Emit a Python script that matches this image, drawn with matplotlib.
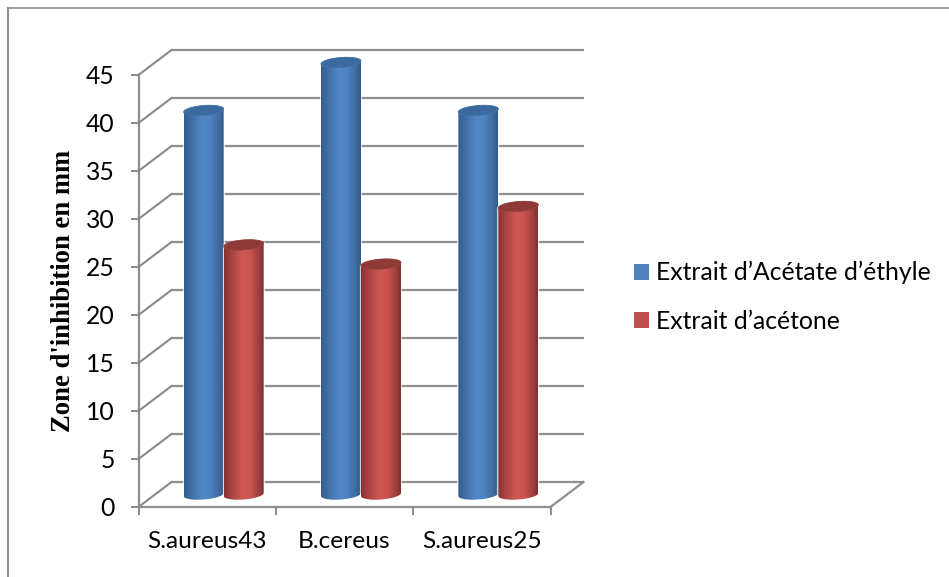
import matplotlib
matplotlib.use("Agg")
import matplotlib.pyplot as plt
import numpy as np
from matplotlib.colors import LinearSegmentedColormap
from matplotlib.lines import Line2D
from matplotlib.patches import Patch, PathPatch
from matplotlib.path import Path

categories = ["S.aureus43", "B.cereus", "S.aureus25"]
acetate = [40, 45, 40]
acetone = [26, 24, 30]
series_names = ["Extrait d\u2019Acétate d\u2019éthyle", "Extrait d\u2019acétone"]
y_ticks = list(range(0, 50, 5))

GRID = "#8e8e8e"
BLUE = "#4f81bd"
RED = "#c0504d"
blue_map = LinearSegmentedColormap.from_list(
    "blue_cyl", [(0, "#365f8f"), (0.2, "#4170a8"), (0.45, "#5187c9"), (0.65, "#4f83c2"), (0.88, "#3f6b9f"), (1, "#335a88")])
red_map = LinearSegmentedColormap.from_list(
    "red_cyl", [(0, "#853331"), (0.2, "#ab4542"), (0.45, "#cf5754"), (0.65, "#cb5451"), (0.88, "#9e3f3d"), (1, "#7d302e")])

W, H = 949, 577
fig = plt.figure(figsize=(W / 100, H / 100), dpi=100, facecolor="white")
ax = fig.add_axes([138.5 / W, (H - 507) / H, 412 / W, 432 / H])
ax.set_xlim(0, 3)
ax.set_ylim(0, 45)
ax.autoscale(False)
ax.patch.set_visible(False)

# pixels per data unit, used to keep the fake depth and ellipses in data coordinates
PX_X = 412 / 3
PX_Y = 432 / 45
DEPTH_X = 33 / PX_X
DEPTH_Y = 25 / PX_Y

# walls and floor
for v in y_ticks:
    ax.plot([DEPTH_X, 3 + DEPTH_X], [v + DEPTH_Y] * 2, color=GRID, lw=1.6, clip_on=False, zorder=1, solid_capstyle="butt")
    ax.plot([0, DEPTH_X], [v, v + DEPTH_Y], color=GRID, lw=1.6, clip_on=False, zorder=1)
ax.plot([3, 3 + DEPTH_X], [0, DEPTH_Y], color=GRID, lw=1.6, clip_on=False, zorder=1)


def ellipse_xy(cx, v, t):
    # ellipse seen from above, slightly tilted up to the right
    x = cx + (20 * np.cos(t)) / PX_X
    y = v + (5 * np.sin(t) + 1.5 * np.cos(t)) / PX_Y
    return x, y


def cylinder(cx, value, cmap, top_color, z):
    # cylinder stands mid-way in the depth of the chart
    cx = cx + DEPTH_X / 2
    base = DEPTH_Y / 2
    top = base + value
    t1 = np.linspace(np.pi, 2 * np.pi, 40)
    t2 = np.linspace(2 * np.pi, np.pi, 40)
    bx, by = ellipse_xy(cx, base, t1)
    tx, ty = ellipse_xy(cx, top, t2)
    xs = np.r_[bx, tx, bx[0]]
    ys = np.r_[by, ty, by[0]]
    outline = Path(np.c_[xs, ys])
    # pale halo along the sides only, it breaks the grid lines next to the bar
    ax.plot([bx[0], tx[-1]], [by[0], ty[-1]], color="white", lw=1.6, alpha=0.7, zorder=z - 0.1, clip_on=False)
    ax.plot([bx[-1], tx[0]], [by[-1], ty[0]], color="white", lw=1.6, alpha=0.7, zorder=z - 0.1, clip_on=False)
    half = 20 / PX_X
    gradient = np.linspace(0, 1, 128).reshape(1, -1)
    im = ax.imshow(gradient, cmap=cmap, aspect="auto", extent=[cx - half, cx + half, base - 1, top + 1], zorder=z, interpolation="bilinear")
    im.set_clip_path(PathPatch(outline, transform=ax.transData))
    im.set_clip_box(fig.bbox)
    ex, ey = ellipse_xy(cx, top, np.linspace(0, 2 * np.pi, 80))
    ax.fill(ex, ey, facecolor=top_color, edgecolor=top_color, lw=0.6, zorder=z + 0.1, clip_on=False)


bar_w = 40 / PX_X
for i in range(len(categories)):
    cylinder(i + 0.5 - bar_w / 2, acetate[i], blue_map, "#3b6a9f", 3)
    cylinder(i + 0.5 + bar_w / 2, acetone[i], red_map, "#8f3a38", 4)

# axes lines and tick labels
for side in ["top", "right"]:
    ax.spines[side].set_visible(False)
for side in ["left", "bottom"]:
    ax.spines[side].set_color(GRID)
    ax.spines[side].set_linewidth(1.6)
    ax.spines[side].set_zorder(2)

ax.set_yticks(y_ticks)
ax.set_xticks([0, 1, 2, 3])
ax.set_xticklabels([])
ax.set_xticks([0.5, 1.5, 2.5], minor=True)
ax.set_xticklabels(categories, minor=True, family="Lato", fontsize=17.6, color="black")
ax.tick_params(axis="x", which="major", length=5.5, width=1.5, color=GRID)
ax.tick_params(axis="x", which="minor", length=0, pad=17)
ax.tick_params(axis="y", length=5.5, width=1.5, color=GRID, pad=11.5, labelsize=17.8)
for lab in ax.get_yticklabels():
    lab.set_family("Lato")

ax.set_ylabel("Zone d'inhibition en mm", family="Liberation Serif", weight="bold", fontsize=19.2)
ax.yaxis.set_label_coords((76 - 138.5) / 412, (507 - 291) / 432)

handles = [Patch(facecolor=BLUE, edgecolor="none"), Patch(facecolor=RED, edgecolor="none")]
fig.legend(handles, series_names, loc="upper left", bbox_to_anchor=(634 / W, (H - 261) / H), frameon=False,
           prop={"family": "Lato", "size": 17.8}, handlelength=0.61, handleheight=0.61, handletextpad=0.28,
           labelspacing=1.04, borderpad=0, borderaxespad=0)

# thin border around the chart area
fig.add_artist(Line2D([7.5 / W, 7.5 / W], [0, (H - 7.5) / H], color=GRID, lw=1.5))
fig.add_artist(Line2D([7.5 / W, 1], [(H - 7.5) / H] * 2, color=GRID, lw=1.2))

fig.savefig("out.png", dpi=100)
